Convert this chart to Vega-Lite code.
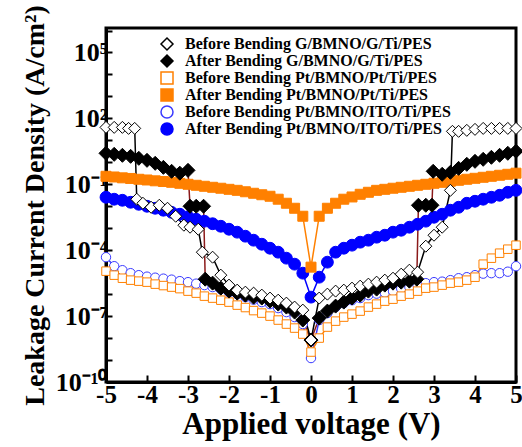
{
  "$schema": "https://vega.github.io/schema/vega-lite/v6.json",
  "width": 410,
  "height": 354,
  "autosize": {"type": "none"},
  "padding": {"left": 106, "top": 28, "right": 6, "bottom": 65},
  "background": "white",
  "data": {"values": [
    {"s":"After Bending Pt/BMNO/ITO/Ti/PES","v":-5.0,"j":0.0257},{"s":"After Bending Pt/BMNO/ITO/Ti/PES","v":-4.8,"j":0.0209},{"s":"After Bending Pt/BMNO/ITO/Ti/PES","v":-4.6,"j":0.0187},{"s":"After Bending Pt/BMNO/ITO/Ti/PES","v":-4.4,"j":0.0152},{"s":"After Bending Pt/BMNO/ITO/Ti/PES","v":-4.2,"j":0.0123},{"s":"After Bending Pt/BMNO/ITO/Ti/PES","v":-4.0,"j":0.01},{"s":"After Bending Pt/BMNO/ITO/Ti/PES","v":-3.8,"j":0.0081},{"s":"After Bending Pt/BMNO/ITO/Ti/PES","v":-3.6,"j":0.0066},{"s":"After Bending Pt/BMNO/ITO/Ti/PES","v":-3.4,"j":0.0053},{"s":"After Bending Pt/BMNO/ITO/Ti/PES","v":-3.2,"j":0.00433},{"s":"After Bending Pt/BMNO/ITO/Ti/PES","v":-3.0,"j":0.00333},{"s":"After Bending Pt/BMNO/ITO/Ti/PES","v":-2.8,"j":0.00257},{"s":"After Bending Pt/BMNO/ITO/Ti/PES","v":-2.6,"j":0.00209},{"s":"After Bending Pt/BMNO/ITO/Ti/PES","v":-2.4,"j":0.0016},{"s":"After Bending Pt/BMNO/ITO/Ti/PES","v":-2.2,"j":0.00123},{"s":"After Bending Pt/BMNO/ITO/Ti/PES","v":-2.0,"j":0.0009},{"s":"After Bending Pt/BMNO/ITO/Ti/PES","v":-1.8,"j":0.00066},{"s":"After Bending Pt/BMNO/ITO/Ti/PES","v":-1.6,"j":0.000433},{"s":"After Bending Pt/BMNO/ITO/Ti/PES","v":-1.4,"j":0.000285},{"s":"After Bending Pt/BMNO/ITO/Ti/PES","v":-1.2,"j":0.000187},{"s":"After Bending Pt/BMNO/ITO/Ti/PES","v":-1.0,"j":0.000123},{"s":"After Bending Pt/BMNO/ITO/Ti/PES","v":-0.8,"j":8.1e-5},{"s":"After Bending Pt/BMNO/ITO/Ti/PES","v":-0.6,"j":4.33e-5},{"s":"After Bending Pt/BMNO/ITO/Ti/PES","v":-0.4,"j":2.31e-5},{"s":"After Bending Pt/BMNO/ITO/Ti/PES","v":-0.2,"j":9.0e-6},{"s":"After Bending Pt/BMNO/ITO/Ti/PES","v":0.0,"j":7.3e-7},{"s":"After Bending Pt/BMNO/ITO/Ti/PES","v":0.2,"j":5.9e-6},{"s":"After Bending Pt/BMNO/ITO/Ti/PES","v":0.4,"j":2.85e-5},{"s":"After Bending Pt/BMNO/ITO/Ti/PES","v":0.6,"j":8.1e-5},{"s":"After Bending Pt/BMNO/ITO/Ti/PES","v":0.8,"j":1.23e-4},{"s":"After Bending Pt/BMNO/ITO/Ti/PES","v":1.0,"j":1.69e-4},{"s":"After Bending Pt/BMNO/ITO/Ti/PES","v":1.2,"j":2.31e-4},{"s":"After Bending Pt/BMNO/ITO/Ti/PES","v":1.4,"j":2.85e-4},{"s":"After Bending Pt/BMNO/ITO/Ti/PES","v":1.6,"j":3.9e-4},{"s":"After Bending Pt/BMNO/ITO/Ti/PES","v":1.8,"j":4.8e-4},{"s":"After Bending Pt/BMNO/ITO/Ti/PES","v":2.0,"j":6.6e-4},{"s":"After Bending Pt/BMNO/ITO/Ti/PES","v":2.2,"j":8.1e-4},{"s":"After Bending Pt/BMNO/ITO/Ti/PES","v":2.4,"j":1.11e-3},{"s":"After Bending Pt/BMNO/ITO/Ti/PES","v":2.6,"j":1.52e-3},{"s":"After Bending Pt/BMNO/ITO/Ti/PES","v":2.8,"j":2.09e-3},{"s":"After Bending Pt/BMNO/ITO/Ti/PES","v":3.0,"j":3.16e-3},{"s":"After Bending Pt/BMNO/ITO/Ti/PES","v":3.2,"j":4.33e-3},{"s":"After Bending Pt/BMNO/ITO/Ti/PES","v":3.4,"j":6.6e-3},{"s":"After Bending Pt/BMNO/ITO/Ti/PES","v":3.6,"j":9.0e-3},{"s":"After Bending Pt/BMNO/ITO/Ti/PES","v":3.8,"j":0.0137},{"s":"After Bending Pt/BMNO/ITO/Ti/PES","v":4.0,"j":0.0169},{"s":"After Bending Pt/BMNO/ITO/Ti/PES","v":4.2,"j":0.0209},{"s":"After Bending Pt/BMNO/ITO/Ti/PES","v":4.4,"j":0.0257},{"s":"After Bending Pt/BMNO/ITO/Ti/PES","v":4.6,"j":0.0316},{"s":"After Bending Pt/BMNO/ITO/Ti/PES","v":4.8,"j":0.0433},{"s":"After Bending Pt/BMNO/ITO/Ti/PES","v":5.0,"j":0.053},
    {"s":"After Bending Pt/BMNO/Pt/Ti/PES","v":-5.0,"j":0.231},{"s":"After Bending Pt/BMNO/Pt/Ti/PES","v":-4.8,"j":0.215},{"s":"After Bending Pt/BMNO/Pt/Ti/PES","v":-4.6,"j":0.197},{"s":"After Bending Pt/BMNO/Pt/Ti/PES","v":-4.4,"j":0.184},{"s":"After Bending Pt/BMNO/Pt/Ti/PES","v":-4.2,"j":0.169},{"s":"After Bending Pt/BMNO/Pt/Ti/PES","v":-4.0,"j":0.157},{"s":"After Bending Pt/BMNO/Pt/Ti/PES","v":-3.8,"j":0.144},{"s":"After Bending Pt/BMNO/Pt/Ti/PES","v":-3.6,"j":0.134},{"s":"After Bending Pt/BMNO/Pt/Ti/PES","v":-3.4,"j":0.123},{"s":"After Bending Pt/BMNO/Pt/Ti/PES","v":-3.2,"j":0.111},{"s":"After Bending Pt/BMNO/Pt/Ti/PES","v":-3.0,"j":0.1},{"s":"After Bending Pt/BMNO/Pt/Ti/PES","v":-2.8,"j":0.09},{"s":"After Bending Pt/BMNO/Pt/Ti/PES","v":-2.6,"j":0.081},{"s":"After Bending Pt/BMNO/Pt/Ti/PES","v":-2.4,"j":0.073},{"s":"After Bending Pt/BMNO/Pt/Ti/PES","v":-2.2,"j":0.066},{"s":"After Bending Pt/BMNO/Pt/Ti/PES","v":-2.0,"j":0.059},{"s":"After Bending Pt/BMNO/Pt/Ti/PES","v":-1.8,"j":0.053},{"s":"After Bending Pt/BMNO/Pt/Ti/PES","v":-1.6,"j":0.0457},{"s":"After Bending Pt/BMNO/Pt/Ti/PES","v":-1.4,"j":0.039},{"s":"After Bending Pt/BMNO/Pt/Ti/PES","v":-1.2,"j":0.0334},{"s":"After Bending Pt/BMNO/Pt/Ti/PES","v":-1.0,"j":0.0285},{"s":"After Bending Pt/BMNO/Pt/Ti/PES","v":-0.8,"j":0.0209},{"s":"After Bending Pt/BMNO/Pt/Ti/PES","v":-0.6,"j":0.0137},{"s":"After Bending Pt/BMNO/Pt/Ti/PES","v":-0.4,"j":0.0081},{"s":"After Bending Pt/BMNO/Pt/Ti/PES","v":-0.2,"j":0.00351},{"s":"After Bending Pt/BMNO/Pt/Ti/PES","v":0.0,"j":1.69e-5},{"s":"After Bending Pt/BMNO/Pt/Ti/PES","v":0.2,"j":0.00351},{"s":"After Bending Pt/BMNO/Pt/Ti/PES","v":0.4,"j":0.0081},{"s":"After Bending Pt/BMNO/Pt/Ti/PES","v":0.6,"j":0.0137},{"s":"After Bending Pt/BMNO/Pt/Ti/PES","v":0.8,"j":0.0209},{"s":"After Bending Pt/BMNO/Pt/Ti/PES","v":1.0,"j":0.0265},{"s":"After Bending Pt/BMNO/Pt/Ti/PES","v":1.2,"j":0.0351},{"s":"After Bending Pt/BMNO/Pt/Ti/PES","v":1.4,"j":0.0433},{"s":"After Bending Pt/BMNO/Pt/Ti/PES","v":1.6,"j":0.053},{"s":"After Bending Pt/BMNO/Pt/Ti/PES","v":1.8,"j":0.059},{"s":"After Bending Pt/BMNO/Pt/Ti/PES","v":2.0,"j":0.066},{"s":"After Bending Pt/BMNO/Pt/Ti/PES","v":2.2,"j":0.073},{"s":"After Bending Pt/BMNO/Pt/Ti/PES","v":2.4,"j":0.081},{"s":"After Bending Pt/BMNO/Pt/Ti/PES","v":2.6,"j":0.09},{"s":"After Bending Pt/BMNO/Pt/Ti/PES","v":2.8,"j":0.1},{"s":"After Bending Pt/BMNO/Pt/Ti/PES","v":3.0,"j":0.111},{"s":"After Bending Pt/BMNO/Pt/Ti/PES","v":3.2,"j":0.123},{"s":"After Bending Pt/BMNO/Pt/Ti/PES","v":3.4,"j":0.137},{"s":"After Bending Pt/BMNO/Pt/Ti/PES","v":3.6,"j":0.152},{"s":"After Bending Pt/BMNO/Pt/Ti/PES","v":3.8,"j":0.169},{"s":"After Bending Pt/BMNO/Pt/Ti/PES","v":4.0,"j":0.187},{"s":"After Bending Pt/BMNO/Pt/Ti/PES","v":4.2,"j":0.208},{"s":"After Bending Pt/BMNO/Pt/Ti/PES","v":4.4,"j":0.231},{"s":"After Bending Pt/BMNO/Pt/Ti/PES","v":4.6,"j":0.257},{"s":"After Bending Pt/BMNO/Pt/Ti/PES","v":4.8,"j":0.285},{"s":"After Bending Pt/BMNO/Pt/Ti/PES","v":5.0,"j":0.32},
    {"s":"Before Bending Pt/BMNO/ITO/Ti/PES","v":-5.0,"j":4.8e-5},{"s":"Before Bending Pt/BMNO/ITO/Ti/PES","v":-4.8,"j":1.87e-5},{"s":"Before Bending Pt/BMNO/ITO/Ti/PES","v":-4.6,"j":1.23e-5},{"s":"Before Bending Pt/BMNO/ITO/Ti/PES","v":-4.4,"j":9.0e-6},{"s":"Before Bending Pt/BMNO/ITO/Ti/PES","v":-4.2,"j":7.3e-6},{"s":"Before Bending Pt/BMNO/ITO/Ti/PES","v":-4.0,"j":6.24e-6},{"s":"Before Bending Pt/BMNO/ITO/Ti/PES","v":-3.8,"j":5.6e-6},{"s":"Before Bending Pt/BMNO/ITO/Ti/PES","v":-3.6,"j":5.07e-6},{"s":"Before Bending Pt/BMNO/ITO/Ti/PES","v":-3.4,"j":4.57e-6},{"s":"Before Bending Pt/BMNO/ITO/Ti/PES","v":-3.2,"j":3.9e-6},{"s":"Before Bending Pt/BMNO/ITO/Ti/PES","v":-3.0,"j":3.51e-6},{"s":"Before Bending Pt/BMNO/ITO/Ti/PES","v":-2.8,"j":3.0e-6},{"s":"Before Bending Pt/BMNO/ITO/Ti/PES","v":-2.6,"j":2.57e-6},{"s":"Before Bending Pt/BMNO/ITO/Ti/PES","v":-2.4,"j":2.09e-6},{"s":"Before Bending Pt/BMNO/ITO/Ti/PES","v":-2.2,"j":1.69e-6},{"s":"Before Bending Pt/BMNO/ITO/Ti/PES","v":-2.0,"j":1.23e-6},{"s":"Before Bending Pt/BMNO/ITO/Ti/PES","v":-1.8,"j":1.0e-6},{"s":"Before Bending Pt/BMNO/ITO/Ti/PES","v":-1.6,"j":7.3e-7},{"s":"Before Bending Pt/BMNO/ITO/Ti/PES","v":-1.4,"j":5.6e-7},{"s":"Before Bending Pt/BMNO/ITO/Ti/PES","v":-1.2,"j":4.33e-7},{"s":"Before Bending Pt/BMNO/ITO/Ti/PES","v":-1.0,"j":3.51e-7},{"s":"Before Bending Pt/BMNO/ITO/Ti/PES","v":-0.8,"j":2.31e-7},{"s":"Before Bending Pt/BMNO/ITO/Ti/PES","v":-0.6,"j":1.52e-7},{"s":"Before Bending Pt/BMNO/ITO/Ti/PES","v":-0.4,"j":9.0e-8},{"s":"Before Bending Pt/BMNO/ITO/Ti/PES","v":-0.2,"j":4.33e-8},{"s":"Before Bending Pt/BMNO/ITO/Ti/PES","v":0.0,"j":1.23e-9},{"s":"Before Bending Pt/BMNO/ITO/Ti/PES","v":0.2,"j":6.6e-8},{"s":"Before Bending Pt/BMNO/ITO/Ti/PES","v":0.4,"j":1.37e-7},{"s":"Before Bending Pt/BMNO/ITO/Ti/PES","v":0.6,"j":2.57e-7},{"s":"Before Bending Pt/BMNO/ITO/Ti/PES","v":0.8,"j":3.9e-7},{"s":"Before Bending Pt/BMNO/ITO/Ti/PES","v":1.0,"j":5.3e-7},{"s":"Before Bending Pt/BMNO/ITO/Ti/PES","v":1.2,"j":6.6e-7},{"s":"Before Bending Pt/BMNO/ITO/Ti/PES","v":1.4,"j":9.0e-7},{"s":"Before Bending Pt/BMNO/ITO/Ti/PES","v":1.6,"j":1.05e-6},{"s":"Before Bending Pt/BMNO/ITO/Ti/PES","v":1.8,"j":1.17e-6},{"s":"Before Bending Pt/BMNO/ITO/Ti/PES","v":2.0,"j":1.37e-6},{"s":"Before Bending Pt/BMNO/ITO/Ti/PES","v":2.2,"j":1.78e-6},{"s":"Before Bending Pt/BMNO/ITO/Ti/PES","v":2.4,"j":2.09e-6},{"s":"Before Bending Pt/BMNO/ITO/Ti/PES","v":2.6,"j":2.57e-6},{"s":"Before Bending Pt/BMNO/ITO/Ti/PES","v":2.8,"j":3.16e-6},{"s":"Before Bending Pt/BMNO/ITO/Ti/PES","v":3.0,"j":3.51e-6},{"s":"Before Bending Pt/BMNO/ITO/Ti/PES","v":3.2,"j":3.7e-6},{"s":"Before Bending Pt/BMNO/ITO/Ti/PES","v":3.4,"j":4.33e-6},{"s":"Before Bending Pt/BMNO/ITO/Ti/PES","v":3.6,"j":5.3e-6},{"s":"Before Bending Pt/BMNO/ITO/Ti/PES","v":3.8,"j":5.9e-6},{"s":"Before Bending Pt/BMNO/ITO/Ti/PES","v":4.0,"j":7.3e-6},{"s":"Before Bending Pt/BMNO/ITO/Ti/PES","v":4.2,"j":8.55e-6},{"s":"Before Bending Pt/BMNO/ITO/Ti/PES","v":4.4,"j":9.0e-6},{"s":"Before Bending Pt/BMNO/ITO/Ti/PES","v":4.6,"j":9.0e-6},{"s":"Before Bending Pt/BMNO/ITO/Ti/PES","v":4.8,"j":1.05e-5},{"s":"Before Bending Pt/BMNO/ITO/Ti/PES","v":5.0,"j":1.87e-5},
    {"s":"Before Bending Pt/BMNO/Pt/Ti/PES","v":-5.0,"j":1.11e-5},{"s":"Before Bending Pt/BMNO/Pt/Ti/PES","v":-4.8,"j":7.3e-6},{"s":"Before Bending Pt/BMNO/Pt/Ti/PES","v":-4.6,"j":5.3e-6},{"s":"Before Bending Pt/BMNO/Pt/Ti/PES","v":-4.4,"j":4.33e-6},{"s":"Before Bending Pt/BMNO/Pt/Ti/PES","v":-4.2,"j":3.9e-6},{"s":"Before Bending Pt/BMNO/Pt/Ti/PES","v":-4.0,"j":3.51e-6},{"s":"Before Bending Pt/BMNO/Pt/Ti/PES","v":-3.8,"j":2.85e-6},{"s":"Before Bending Pt/BMNO/Pt/Ti/PES","v":-3.6,"j":2.45e-6},{"s":"Before Bending Pt/BMNO/Pt/Ti/PES","v":-3.4,"j":2.09e-6},{"s":"Before Bending Pt/BMNO/Pt/Ti/PES","v":-3.2,"j":1.78e-6},{"s":"Before Bending Pt/BMNO/Pt/Ti/PES","v":-3.0,"j":1.37e-6},{"s":"Before Bending Pt/BMNO/Pt/Ti/PES","v":-2.8,"j":1.11e-6},{"s":"Before Bending Pt/BMNO/Pt/Ti/PES","v":-2.6,"j":8.1e-7},{"s":"Before Bending Pt/BMNO/Pt/Ti/PES","v":-2.4,"j":6.6e-7},{"s":"Before Bending Pt/BMNO/Pt/Ti/PES","v":-2.2,"j":5.3e-7},{"s":"Before Bending Pt/BMNO/Pt/Ti/PES","v":-2.0,"j":4.33e-7},{"s":"Before Bending Pt/BMNO/Pt/Ti/PES","v":-1.8,"j":3.16e-7},{"s":"Before Bending Pt/BMNO/Pt/Ti/PES","v":-1.6,"j":2.45e-7},{"s":"Before Bending Pt/BMNO/Pt/Ti/PES","v":-1.4,"j":1.78e-7},{"s":"Before Bending Pt/BMNO/Pt/Ti/PES","v":-1.2,"j":1.37e-7},{"s":"Before Bending Pt/BMNO/Pt/Ti/PES","v":-1.0,"j":1.0e-7},{"s":"Before Bending Pt/BMNO/Pt/Ti/PES","v":-0.8,"j":6.6e-8},{"s":"Before Bending Pt/BMNO/Pt/Ti/PES","v":-0.6,"j":4.33e-8},{"s":"Before Bending Pt/BMNO/Pt/Ti/PES","v":-0.4,"j":2.85e-8},{"s":"Before Bending Pt/BMNO/Pt/Ti/PES","v":-0.2,"j":1.52e-8},{"s":"Before Bending Pt/BMNO/Pt/Ti/PES","v":0.0,"j":2.31e-9},{"s":"Before Bending Pt/BMNO/Pt/Ti/PES","v":0.2,"j":1.0e-8},{"s":"Before Bending Pt/BMNO/Pt/Ti/PES","v":0.4,"j":3.16e-8},{"s":"Before Bending Pt/BMNO/Pt/Ti/PES","v":0.6,"j":5.9e-8},{"s":"Before Bending Pt/BMNO/Pt/Ti/PES","v":0.8,"j":9.0e-8},{"s":"Before Bending Pt/BMNO/Pt/Ti/PES","v":1.0,"j":1.23e-7},{"s":"Before Bending Pt/BMNO/Pt/Ti/PES","v":1.2,"j":1.69e-7},{"s":"Before Bending Pt/BMNO/Pt/Ti/PES","v":1.4,"j":2.57e-7},{"s":"Before Bending Pt/BMNO/Pt/Ti/PES","v":1.6,"j":3.51e-7},{"s":"Before Bending Pt/BMNO/Pt/Ti/PES","v":1.8,"j":4.8e-7},{"s":"Before Bending Pt/BMNO/Pt/Ti/PES","v":2.0,"j":5.9e-7},{"s":"Before Bending Pt/BMNO/Pt/Ti/PES","v":2.2,"j":8.1e-7},{"s":"Before Bending Pt/BMNO/Pt/Ti/PES","v":2.4,"j":1.0e-6},{"s":"Before Bending Pt/BMNO/Pt/Ti/PES","v":2.6,"j":1.37e-6},{"s":"Before Bending Pt/BMNO/Pt/Ti/PES","v":2.8,"j":1.87e-6},{"s":"Before Bending Pt/BMNO/Pt/Ti/PES","v":3.0,"j":2.09e-6},{"s":"Before Bending Pt/BMNO/Pt/Ti/PES","v":3.2,"j":2.57e-6},{"s":"Before Bending Pt/BMNO/Pt/Ti/PES","v":3.4,"j":3.16e-6},{"s":"Before Bending Pt/BMNO/Pt/Ti/PES","v":3.6,"j":3.51e-6},{"s":"Before Bending Pt/BMNO/Pt/Ti/PES","v":3.8,"j":4.33e-6},{"s":"Before Bending Pt/BMNO/Pt/Ti/PES","v":4.0,"j":5.9e-6},{"s":"Before Bending Pt/BMNO/Pt/Ti/PES","v":4.2,"j":2.31e-5},{"s":"Before Bending Pt/BMNO/Pt/Ti/PES","v":4.4,"j":4.33e-5},{"s":"Before Bending Pt/BMNO/Pt/Ti/PES","v":4.6,"j":7.3e-5},{"s":"Before Bending Pt/BMNO/Pt/Ti/PES","v":4.8,"j":1.11e-4},{"s":"Before Bending Pt/BMNO/Pt/Ti/PES","v":5.0,"j":1.69e-4},
    {"s":"After Bending G/BMNO/G/Ti/PES","v":-5.0,"j":2.57},{"s":"After Bending G/BMNO/G/Ti/PES","v":-4.8,"j":2.31},{"s":"After Bending G/BMNO/G/Ti/PES","v":-4.6,"j":2.08},{"s":"After Bending G/BMNO/G/Ti/PES","v":-4.4,"j":1.87},{"s":"After Bending G/BMNO/G/Ti/PES","v":-4.2,"j":1.52},{"s":"After Bending G/BMNO/G/Ti/PES","v":-4.0,"j":1.23},{"s":"After Bending G/BMNO/G/Ti/PES","v":-3.8,"j":0.9},{"s":"After Bending G/BMNO/G/Ti/PES","v":-3.6,"j":0.59},{"s":"After Bending G/BMNO/G/Ti/PES","v":-3.4,"j":0.39},{"s":"After Bending G/BMNO/G/Ti/PES","v":-3.2,"j":0.32},{"s":"After Bending G/BMNO/G/Ti/PES","v":-3.0,"j":0.43},{"s":"After Bending G/BMNO/G/Ti/PES","v":-2.95,"j":0.01},{"s":"After Bending G/BMNO/G/Ti/PES","v":-2.8,"j":0.01},{"s":"After Bending G/BMNO/G/Ti/PES","v":-2.62,"j":0.01},{"s":"After Bending G/BMNO/G/Ti/PES","v":-2.58,"j":4.8e-6},{"s":"After Bending G/BMNO/G/Ti/PES","v":-2.4,"j":3.16e-6},{"s":"After Bending G/BMNO/G/Ti/PES","v":-2.2,"j":1.87e-6},{"s":"After Bending G/BMNO/G/Ti/PES","v":-2.0,"j":1.37e-6},{"s":"After Bending G/BMNO/G/Ti/PES","v":-1.8,"j":1.11e-6},{"s":"After Bending G/BMNO/G/Ti/PES","v":-1.6,"j":9.0e-7},{"s":"After Bending G/BMNO/G/Ti/PES","v":-1.4,"j":7.3e-7},{"s":"After Bending G/BMNO/G/Ti/PES","v":-1.2,"j":6.6e-7},{"s":"After Bending G/BMNO/G/Ti/PES","v":-1.0,"j":4.8e-7},{"s":"After Bending G/BMNO/G/Ti/PES","v":-0.8,"j":3.51e-7},{"s":"After Bending G/BMNO/G/Ti/PES","v":-0.6,"j":2.57e-7},{"s":"After Bending G/BMNO/G/Ti/PES","v":-0.4,"j":1.52e-7},{"s":"After Bending G/BMNO/G/Ti/PES","v":-0.2,"j":6.6e-8},{"s":"After Bending G/BMNO/G/Ti/PES","v":0.0,"j":8.1e-9},{"s":"After Bending G/BMNO/G/Ti/PES","v":0.2,"j":8.1e-8},{"s":"After Bending G/BMNO/G/Ti/PES","v":0.4,"j":1.69e-7},{"s":"After Bending G/BMNO/G/Ti/PES","v":0.6,"j":2.85e-7},{"s":"After Bending G/BMNO/G/Ti/PES","v":0.8,"j":4.33e-7},{"s":"After Bending G/BMNO/G/Ti/PES","v":1.0,"j":6.6e-7},{"s":"After Bending G/BMNO/G/Ti/PES","v":1.2,"j":9.0e-7},{"s":"After Bending G/BMNO/G/Ti/PES","v":1.4,"j":1.37e-6},{"s":"After Bending G/BMNO/G/Ti/PES","v":1.6,"j":1.69e-6},{"s":"After Bending G/BMNO/G/Ti/PES","v":1.8,"j":2.57e-6},{"s":"After Bending G/BMNO/G/Ti/PES","v":2.0,"j":3.16e-6},{"s":"After Bending G/BMNO/G/Ti/PES","v":2.2,"j":3.51e-6},{"s":"After Bending G/BMNO/G/Ti/PES","v":2.4,"j":3.9e-6},{"s":"After Bending G/BMNO/G/Ti/PES","v":2.58,"j":4.8e-6},{"s":"After Bending G/BMNO/G/Ti/PES","v":2.62,"j":0.0111},{"s":"After Bending G/BMNO/G/Ti/PES","v":2.8,"j":0.0111},{"s":"After Bending G/BMNO/G/Ti/PES","v":2.95,"j":0.0111},{"s":"After Bending G/BMNO/G/Ti/PES","v":2.98,"j":0.39},{"s":"After Bending G/BMNO/G/Ti/PES","v":3.2,"j":0.285},{"s":"After Bending G/BMNO/G/Ti/PES","v":3.4,"j":0.35},{"s":"After Bending G/BMNO/G/Ti/PES","v":3.6,"j":0.53},{"s":"After Bending G/BMNO/G/Ti/PES","v":3.8,"j":0.81},{"s":"After Bending G/BMNO/G/Ti/PES","v":4.0,"j":1.11},{"s":"After Bending G/BMNO/G/Ti/PES","v":4.2,"j":1.37},{"s":"After Bending G/BMNO/G/Ti/PES","v":4.4,"j":1.69},{"s":"After Bending G/BMNO/G/Ti/PES","v":4.6,"j":2.08},{"s":"After Bending G/BMNO/G/Ti/PES","v":4.8,"j":2.57},{"s":"After Bending G/BMNO/G/Ti/PES","v":5.0,"j":3.2},
    {"s":"Before Bending G/BMNO/G/Ti/PES","v":-5.0,"j":39},{"s":"Before Bending G/BMNO/G/Ti/PES","v":-4.8,"j":39},{"s":"Before Bending G/BMNO/G/Ti/PES","v":-4.6,"j":39},{"s":"Before Bending G/BMNO/G/Ti/PES","v":-4.45,"j":35},{"s":"Before Bending G/BMNO/G/Ti/PES","v":-4.3,"j":35},{"s":"Before Bending G/BMNO/G/Ti/PES","v":-4.25,"j":0.0209},{"s":"Before Bending G/BMNO/G/Ti/PES","v":-4.1,"j":0.0137},{"s":"Before Bending G/BMNO/G/Ti/PES","v":-3.9,"j":0.009},{"s":"Before Bending G/BMNO/G/Ti/PES","v":-3.7,"j":0.0111},{"s":"Before Bending G/BMNO/G/Ti/PES","v":-3.5,"j":0.0081},{"s":"Before Bending G/BMNO/G/Ti/PES","v":-3.3,"j":0.00351},{"s":"Before Bending G/BMNO/G/Ti/PES","v":-3.1,"j":0.00137},{"s":"Before Bending G/BMNO/G/Ti/PES","v":-2.95,"j":0.00111},{"s":"Before Bending G/BMNO/G/Ti/PES","v":-2.75,"j":0.0009},{"s":"Before Bending G/BMNO/G/Ti/PES","v":-2.65,"j":8.1e-5},{"s":"Before Bending G/BMNO/G/Ti/PES","v":-2.4,"j":4.8e-5},{"s":"Before Bending G/BMNO/G/Ti/PES","v":-2.2,"j":7.3e-6},{"s":"Before Bending G/BMNO/G/Ti/PES","v":-2.0,"j":2.57e-6},{"s":"Before Bending G/BMNO/G/Ti/PES","v":-1.8,"j":1.52e-6},{"s":"Before Bending G/BMNO/G/Ti/PES","v":-1.6,"j":1.23e-6},{"s":"Before Bending G/BMNO/G/Ti/PES","v":-1.4,"j":1.11e-6},{"s":"Before Bending G/BMNO/G/Ti/PES","v":-1.2,"j":9.0e-7},{"s":"Before Bending G/BMNO/G/Ti/PES","v":-1.0,"j":6.6e-7},{"s":"Before Bending G/BMNO/G/Ti/PES","v":-0.8,"j":5.3e-7},{"s":"Before Bending G/BMNO/G/Ti/PES","v":-0.6,"j":3.9e-7},{"s":"Before Bending G/BMNO/G/Ti/PES","v":-0.4,"j":2.57e-7},{"s":"Before Bending G/BMNO/G/Ti/PES","v":-0.2,"j":1.87e-7},{"s":"Before Bending G/BMNO/G/Ti/PES","v":0.0,"j":8.1e-9},{"s":"Before Bending G/BMNO/G/Ti/PES","v":0.2,"j":6.6e-7},{"s":"Before Bending G/BMNO/G/Ti/PES","v":0.4,"j":1.0e-6},{"s":"Before Bending G/BMNO/G/Ti/PES","v":0.6,"j":1.37e-6},{"s":"Before Bending G/BMNO/G/Ti/PES","v":0.8,"j":1.52e-6},{"s":"Before Bending G/BMNO/G/Ti/PES","v":1.0,"j":1.87e-6},{"s":"Before Bending G/BMNO/G/Ti/PES","v":1.2,"j":2.31e-6},{"s":"Before Bending G/BMNO/G/Ti/PES","v":1.4,"j":2.85e-6},{"s":"Before Bending G/BMNO/G/Ti/PES","v":1.6,"j":3.51e-6},{"s":"Before Bending G/BMNO/G/Ti/PES","v":1.8,"j":4.33e-6},{"s":"Before Bending G/BMNO/G/Ti/PES","v":2.0,"j":5.3e-6},{"s":"Before Bending G/BMNO/G/Ti/PES","v":2.2,"j":8.1e-6},{"s":"Before Bending G/BMNO/G/Ti/PES","v":2.4,"j":1.23e-5},{"s":"Before Bending G/BMNO/G/Ti/PES","v":2.6,"j":1.0e-5},{"s":"Before Bending G/BMNO/G/Ti/PES","v":2.8,"j":1.52e-4},{"s":"Before Bending G/BMNO/G/Ti/PES","v":3.0,"j":4.8e-4},{"s":"Before Bending G/BMNO/G/Ti/PES","v":3.2,"j":1.11e-3},{"s":"Before Bending G/BMNO/G/Ti/PES","v":3.4,"j":0.053},{"s":"Before Bending G/BMNO/G/Ti/PES","v":3.45,"j":25.7},{"s":"Before Bending G/BMNO/G/Ti/PES","v":3.6,"j":25.7},{"s":"Before Bending G/BMNO/G/Ti/PES","v":3.8,"j":28.5},{"s":"Before Bending G/BMNO/G/Ti/PES","v":4.0,"j":31.6},{"s":"Before Bending G/BMNO/G/Ti/PES","v":4.2,"j":35},{"s":"Before Bending G/BMNO/G/Ti/PES","v":4.4,"j":35},{"s":"Before Bending G/BMNO/G/Ti/PES","v":4.6,"j":35},{"s":"Before Bending G/BMNO/G/Ti/PES","v":4.8,"j":35},{"s":"Before Bending G/BMNO/G/Ti/PES","v":5.0,"j":35}
  ]},
  "encoding": {
    "x": {"field": "v", "type": "quantitative",
      "scale": {"domain": [-5, 5], "nice": false, "zero": false},
      "axis": {"title": "Applied voltage (V)", "values": [-5,-4,-3,-2,-1,0,1,2,3,4,5], "labelExpr": "'' + datum.value", "tickSize": -7, "labelPadding": 7, "titlePadding": 2, "labelFlush": false, "labelFontSize": 25, "titleFontSize": 31}},
    "y": {"field": "j", "type": "quantitative",
      "scale": {"type": "log", "domain": [1e-10, 1.3e6], "nice": false},
      "axis": {"title": "Leakage Current Density (A/cm²)", "values": [1e-10,1e-9,1e-8,1e-7,1e-6,1e-5,1e-4,1e-3,1e-2,1e-1,1,10,100,1000,1e4,1e5,1e6],
        "labelExpr": "round(log(datum.value)/LN10) == 5 ? '10⁵' : round(log(datum.value)/LN10) == 2 ? '10²' : round(log(datum.value)/LN10) == -1 ? '10⁻¹' : round(log(datum.value)/LN10) == -4 ? '10⁻⁴' : round(log(datum.value)/LN10) == -7 ? '10⁻⁷' : round(log(datum.value)/LN10) == -10 ? '10⁻¹⁰' : ''",
        "tickSize": -6, "labelPadding": 5, "titlePadding": 6, "labelFlush": false, "labelOverlap": false, "labelFontSize": 26, "titleFontSize": 28}}
  },
  "layer": [
    {"mark": {"type": "line", "strokeWidth": 1.5},
     "encoding": {
       "detail": {"field": "s", "type": "nominal"},
       "color": {"condition": [
          {"test": "datum.s == 'Before Bending G/BMNO/G/Ti/PES'", "value": "#000000"},
          {"test": "datum.s == 'After Bending G/BMNO/G/Ti/PES'", "value": "#8b1a1a"},
          {"test": "indexof(datum.s, 'BMNO/Pt') >= 0", "value": "#ff8000"},
          {"test": "datum.s == 'Before Bending Pt/BMNO/ITO/Ti/PES'", "value": "#3a3aff"}],
          "value": "#0000ff"}}},
    {"mark": {"type": "point", "opacity": 1, "strokeWidth": 1},
     "encoding": {
       "shape": {"field": "s", "type": "nominal",
         "scale": {"domain": ["Before Bending G/BMNO/G/Ti/PES","After Bending G/BMNO/G/Ti/PES","Before Bending Pt/BMNO/Pt/Ti/PES","After Bending Pt/BMNO/Pt/Ti/PES","Before Bending Pt/BMNO/ITO/Ti/PES","After Bending Pt/BMNO/ITO/Ti/PES"], "range": ["diamond","diamond","square","square","circle","circle"]},
         "legend": {"orient": "none", "legendX": 53, "legendY": 8, "title": null, "labelOffset": 10, "rowPadding": -1.5, "labelLimit": 400, "symbolSize": 144, "symbolStrokeWidth": 1.5, "symbolOpacity": 1,
           "labelFont": "Liberation Serif", "labelFontWeight": "bold", "labelFontSize": 16, "labelColor": "black"}},
       "fill": {"field": "s", "type": "nominal",
         "scale": {"domain": ["Before Bending G/BMNO/G/Ti/PES","After Bending G/BMNO/G/Ti/PES","Before Bending Pt/BMNO/Pt/Ti/PES","After Bending Pt/BMNO/Pt/Ti/PES","Before Bending Pt/BMNO/ITO/Ti/PES","After Bending Pt/BMNO/ITO/Ti/PES"], "range": ["#ffffff","#000000","#ffffff","#ff8000","#ffffff","#0000ff"]}},
       "stroke": {"field": "s", "type": "nominal",
         "scale": {"domain": ["Before Bending G/BMNO/G/Ti/PES","After Bending G/BMNO/G/Ti/PES","Before Bending Pt/BMNO/Pt/Ti/PES","After Bending Pt/BMNO/Pt/Ti/PES","Before Bending Pt/BMNO/ITO/Ti/PES","After Bending Pt/BMNO/ITO/Ti/PES"], "range": ["#000000","#000000","#ff8000","#ff8000","#3a3aff","#0000ff"]}},
       "size": {"condition": [
          {"test": "datum.s == 'Before Bending G/BMNO/G/Ti/PES'", "value": 144},
          {"test": "datum.s == 'After Bending G/BMNO/G/Ti/PES'", "value": 196},
          {"test": "datum.s == 'Before Bending Pt/BMNO/Pt/Ti/PES'", "value": 72},
          {"test": "datum.s == 'After Bending Pt/BMNO/Pt/Ti/PES'", "value": 100},
          {"test": "datum.s == 'Before Bending Pt/BMNO/ITO/Ti/PES'", "value": 88}],
          "value": 140}
     }}
  ],
  "config": {
    "view": {"stroke": "black", "strokeWidth": 3},
    "axis": {"grid": false, "domainColor": "black", "domainWidth": 3, "tickColor": "black", "tickWidth": 2,
      "labelFont": "Liberation Serif", "labelFontWeight": "bold", "labelColor": "black",
      "titleFont": "Liberation Serif", "titleFontWeight": "bold", "titleColor": "black"}
  }
}
